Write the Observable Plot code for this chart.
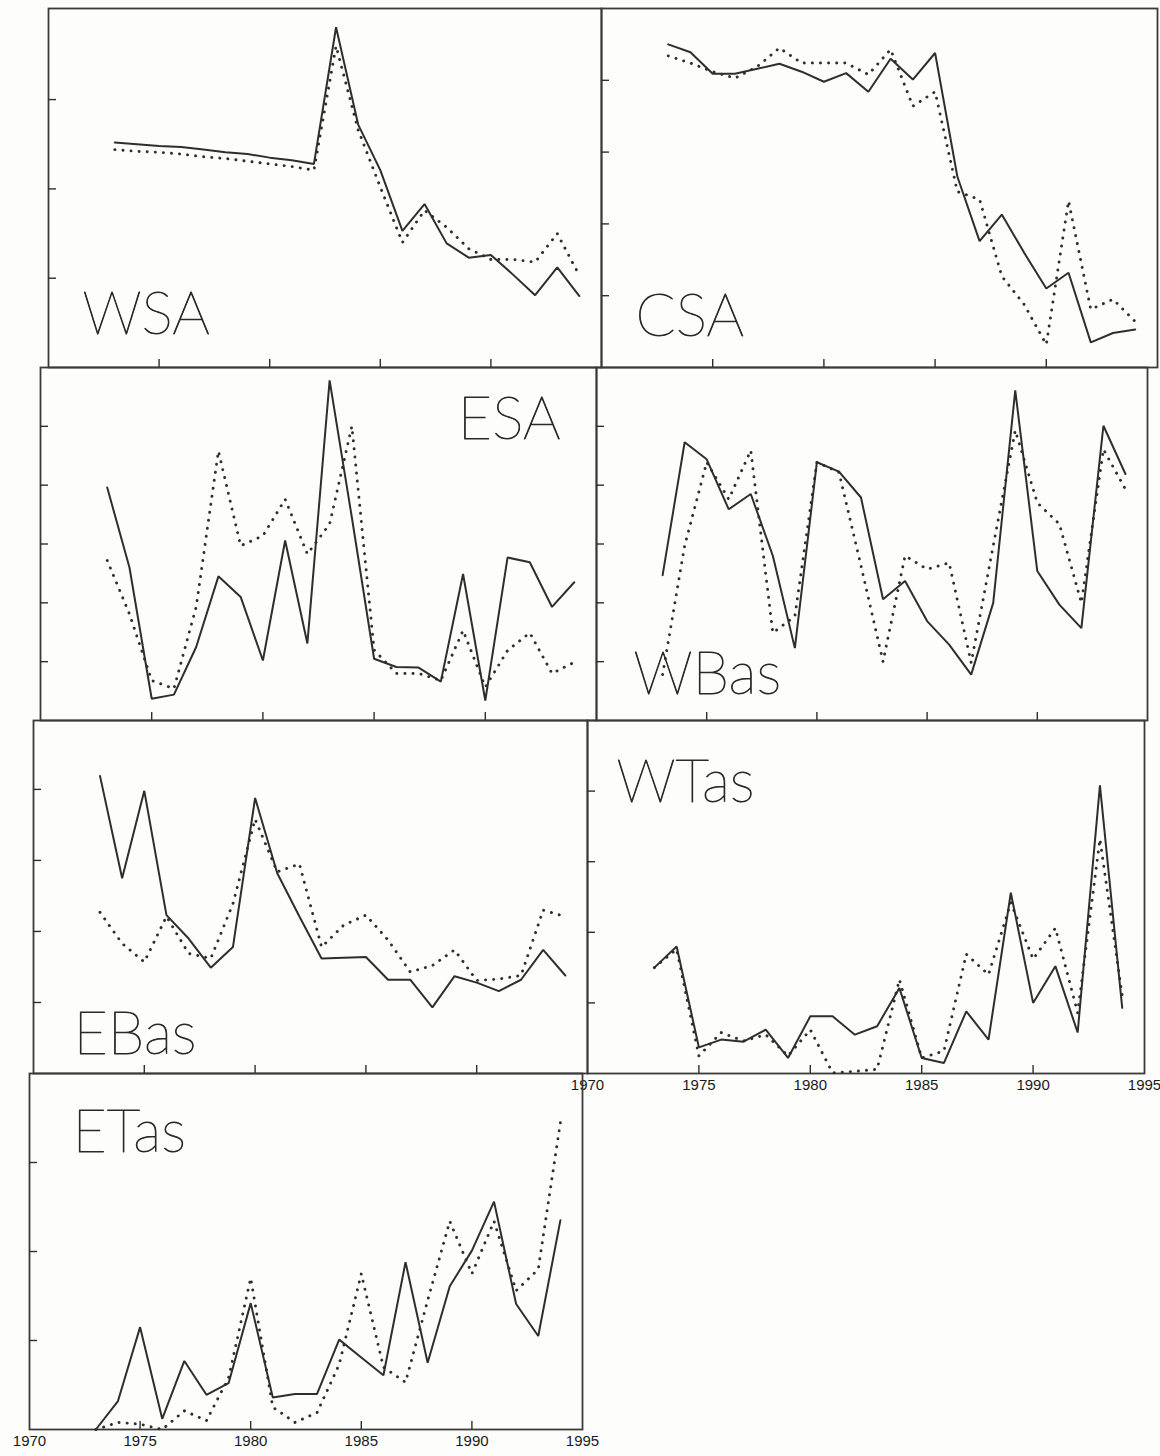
<!DOCTYPE html>
<html>
<head>
<meta charset="utf-8">
<script src="https://cdn.jsdelivr.net/npm/d3@7"></script>
<script src="https://cdn.jsdelivr.net/npm/@observablehq/plot@0.6"></script>
<style>
  html, body { margin: 0; padding: 0; background: #ffffff; }
  #page { position: relative; width: 1160px; height: 1456px; overflow: hidden; background: #fdfdfc; }
  #page > div.panel { position: absolute; }
  #page svg { overflow: visible; }
</style>
</head>
<body>
<div id="page"></div>
<script>
// ---------- data (values in tick units) ----------
const years = [1973,1974,1975,1976,1977,1978,1979,1980,1981,1982,1983,1984,1985,1986,1987,1988,1989,1990,1991,1992,1993,1994];
const xTickYears = [1975, 1980, 1985, 1990];
const xLabelYears = [1970, 1975, 1980, 1985, 1990, 1995];

const wsaSolid  = [2.52,2.50,2.48,2.47,2.44,2.41,2.39,2.35,2.32,2.28,3.81,2.72,2.21,1.53,1.83,1.39,1.23,1.26,1.04,0.81,1.12,0.80];
const wsaDotted = [2.44,2.42,2.41,2.39,2.36,2.34,2.31,2.28,2.25,2.21,3.60,2.66,2.02,1.40,1.76,1.57,1.33,1.21,1.21,1.18,1.50,1.03];

const csaSolid  = [4.50,4.39,4.09,4.09,4.16,4.23,4.12,3.98,4.10,3.84,4.30,4.01,4.38,2.66,1.76,2.13,1.60,1.10,1.32,0.35,0.48,0.53];
const csaDotted = [4.34,4.24,4.12,4.03,4.19,4.45,4.24,4.24,4.24,4.08,4.43,3.64,3.84,2.45,2.34,1.27,0.88,0.32,2.32,0.81,0.95,0.64];

const esaSolid  = [3.96,2.60,0.37,0.44,1.25,2.45,2.10,1.02,3.06,1.31,5.78,3.45,1.05,0.91,0.90,0.66,2.49,0.34,2.77,2.69,1.93,2.35];
const esaDotted = [2.72,1.81,0.68,0.54,1.93,4.58,2.97,3.14,3.76,2.83,3.34,5.00,1.20,0.80,0.80,0.68,1.53,0.57,1.19,1.49,0.80,0.99];

const wbasSolid  = [2.47,4.73,4.44,3.59,3.85,2.80,1.23,4.39,4.23,3.79,2.06,2.37,1.69,1.29,0.78,2.00,5.61,2.54,1.97,1.57,5.01,4.19];
const wbasDotted = [0.78,2.97,4.39,3.76,4.59,1.49,1.77,4.39,4.22,2.63,1.00,2.80,2.57,2.68,0.98,2.97,4.93,3.70,3.34,2.00,4.61,3.93];

const ebasSolid  = [4.19,2.75,3.98,2.23,1.90,1.49,1.78,3.88,2.82,2.21,1.62,1.63,1.64,1.32,1.32,0.93,1.37,1.28,1.16,1.32,1.74,1.38];
const ebasDotted = [2.27,1.83,1.57,2.21,1.69,1.62,2.39,3.58,2.84,2.95,1.78,2.09,2.23,1.88,1.43,1.52,1.74,1.31,1.33,1.38,2.30,2.21];

const wtasSolid  = [1.50,1.80,0.37,0.48,0.45,0.62,0.22,0.81,0.81,0.55,0.67,1.21,0.22,0.15,0.88,0.48,2.56,1.00,1.52,0.58,4.08,0.93];
const wtasDotted = [1.50,1.76,0.25,0.58,0.46,0.55,0.25,0.62,0.01,0.03,0.06,1.33,0.22,0.32,1.69,1.40,2.42,1.62,2.06,0.86,3.32,1.10];

const etasSolid  = [0.00,0.32,1.15,0.12,0.77,0.39,0.52,1.42,0.36,0.40,0.40,1.01,0.81,0.61,1.88,0.75,1.61,2.01,2.56,1.41,1.05,2.35];
const etasDotted = [0.00,0.08,0.06,0.00,0.21,0.10,0.58,1.70,0.25,0.08,0.19,0.73,1.75,0.70,0.53,1.45,2.34,1.75,2.34,1.56,1.80,3.45];

// ---------- layout (pixel boxes of each panel, following the scan) ----------
const panels = [
  {name:"WSA",  solid:wsaSolid,  dotted:wsaDotted,  ymax:4.02, yticks:[1,2,3],     box:[48,8,601,367],     label:{anchor:"bottom-left", dx:34, dy:-34}},
  {name:"CSA",  solid:csaSolid,  dotted:csaDotted,  ymax:5.0,  yticks:[1,2,3,4],   box:[601,8,1157,367],   label:{anchor:"bottom-left", dx:34, dy:-32}},
  {name:"ESA",  solid:esaSolid,  dotted:esaDotted,  ymax:6.0,  yticks:[1,2,3,4,5], box:[40,367,596,720],   label:{anchor:"top-right",  dx:-36, dy:30}},
  {name:"WBas", solid:wbasSolid, dotted:wbasDotted, ymax:6.0,  yticks:[1,2,3,4,5], box:[596,367,1147,720], label:{anchor:"bottom-left", dx:37, dy:-27}},
  {name:"EBas", solid:ebasSolid, dotted:ebasDotted, ymax:4.97, yticks:[1,2,3,4],   box:[33,720,587,1073],  label:{anchor:"bottom-left", dx:40, dy:-20}},
  {name:"WTas", solid:wtasSolid, dotted:wtasDotted, ymax:5.0,  yticks:[1,2,3,4],   box:[587,720,1144,1073],label:{anchor:"top-left",   dx:29, dy:40}, xlabels:true},
  {name:"ETas", solid:etasSolid, dotted:etasDotted, ymax:4.0,  yticks:[1,2,3],     box:[29,1073,582,1429], label:{anchor:"top-left",   dx:43, dy:37}, xlabels:true}
];

const ink = "#2e2e2e";
const page = document.getElementById("page");

for (const p of panels) {
  const [x0, y0, x1, y1] = p.box;
  const W = x1 - x0, H = y1 - y0;
  const m = 3;
  const mb = p.xlabels ? 32 : m;
  const rows = years.map((yr, i) => ({year: yr, solid: p.solid[i], dotted: p.dotted[i]}));
  const top = p.label.anchor.startsWith("top");
  const right = p.label.anchor.endsWith("right");
  const marks = [
    Plot.frame({stroke: "#3a3a3a", strokeWidth: 1.8}),
    Plot.tickX(xTickYears, {x: d => d, insetTop: H - 8, stroke: ink, strokeWidth: 1.4}),
    Plot.tickY(p.yticks, {y: d => d, insetRight: W - 8, stroke: ink, strokeWidth: 1.4}),
    Plot.line(rows, {x: "year", y: "dotted", stroke: ink, strokeWidth: 2.9,
      strokeDasharray: "0.1 8", strokeLinecap: "round", curve: "linear"}),
    Plot.line(rows, {x: "year", y: "solid", stroke: ink, strokeWidth: 2.0, strokeLinejoin: "miter"}),
    Plot.text([p.name], {frameAnchor: p.label.anchor, dx: p.label.dx, dy: p.label.dy,
      textAnchor: right ? "end" : "start", lineAnchor: top ? "top" : "bottom",
      fontSize: 59, fontFamily: "Lato, Roboto, 'DejaVu Sans', sans-serif",
      fill: "#2a2a2a", stroke: "#2a2a2a", strokeWidth: 0.9, fontWeight: 100})
  ];
  if (p.xlabels) {
    marks.push(Plot.axisX(xLabelYears, {tickSize: 0, tickPadding: 6, tickFormat: d => String(d),
      label: null, fontSize: 15, fontFamily: "'Liberation Sans', sans-serif", fill: "#1a1a1a"}));
  }
  const chart = Plot.plot({
    width: W + 2 * m, height: H + m + mb,
    marginLeft: m, marginRight: m, marginTop: m, marginBottom: mb,
    x: {domain: [1970, 1995], axis: null, label: null},
    y: {domain: [0, p.ymax], axis: null, label: null},
    style: {background: "transparent", overflow: "visible"},
    marks
  });
  const holder = document.createElement("div");
  holder.className = "panel";
  holder.style.left = (x0 - m) + "px";
  holder.style.top = (y0 - m) + "px";
  holder.appendChild(chart);
  page.appendChild(holder);
}
</script>
</body>
</html>
